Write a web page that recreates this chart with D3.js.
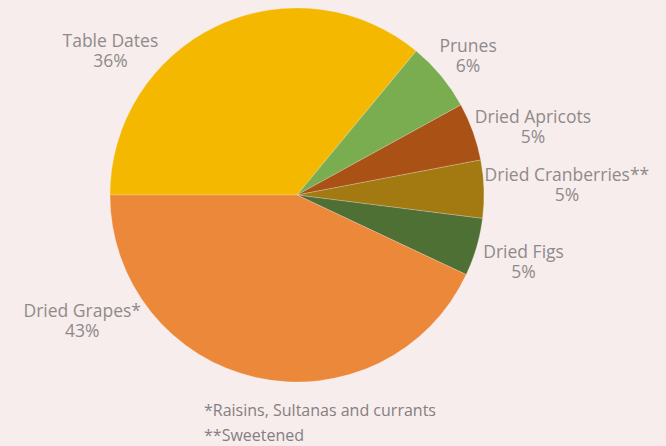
<!DOCTYPE html>
<html>
<head>
<meta charset="utf-8">
<script src="https://cdn.jsdelivr.net/npm/d3@7"></script>
<style>
  html, body { margin: 0; padding: 0; background: #f7eded; }
  svg { display: block; }
  text { font-family: "Open Sans", sans-serif; fill: #8f8a8a; }
</style>
</head>
<body>
<svg id="chart" width="666" height="446"></svg>
<script>
const categories = ["Table Dates", "Prunes", "Dried Apricots", "Dried Cranberries**", "Dried Figs", "Dried Grapes*"];
const values = [36, 6, 5, 5, 5, 43];
const colors = ["#f5b800", "#7aad50", "#aa5216", "#a37a12", "#4f7035", "#ec883a"];
const footnotes = ["*Raisins, Sultanas and currants", "**Sweetened"];

// label offsets from the slice's outer edge (Excel best-fit placement)
const labelOffsets = [[-107, 31], [27, -14], [60, 1], [83, 2], [47, 21], [-174, -50]];

const width = 666, height = 446;
const cx = 297, cy = 195, r = 187;

const svg = d3.select("#chart");
const g = svg.append("g").attr("transform", `translate(${cx},${cy})`);

const data = categories.map((c, i) => ({ name: c, value: values[i] }));
const total = d3.sum(values);

const pie = d3.pie()
    .value(d => d.value)
    .sort(null)
    .startAngle(-Math.PI / 2)
    .endAngle(Math.PI * 1.5);

const arcs = pie(data);
const arc = d3.arc().innerRadius(0).outerRadius(r);
const edge = d3.arc().innerRadius(r).outerRadius(r);

g.selectAll("path")
  .data(arcs)
  .join("path")
    .attr("d", arc)
    .attr("fill", (d, i) => colors[i])
    .attr("stroke", "#f7eded")
    .attr("stroke-opacity", 0.4)
    .attr("stroke-width", 0.6);

const labels = g.selectAll("g.lbl")
  .data(arcs)
  .join("g")
    .attr("class", "lbl")
    .attr("transform", (d, i) => {
      const [x, y] = edge.centroid(d);
      return `translate(${x + labelOffsets[i][0]},${y + labelOffsets[i][1]})`;
    });

labels.append("text")
    .attr("text-anchor", "middle")
    .attr("font-size", 17.5)
    .attr("y", -10)
    .text(d => d.data.name);
labels.append("text")
    .attr("text-anchor", "middle")
    .attr("font-size", 17.5)
    .attr("y", 10)
    .text(d => Math.round(d.data.value / total * 100) + "%");

svg.selectAll("text.fn")
  .data(footnotes)
  .join("text")
    .attr("class", "fn")
    .attr("x", 204)
    .attr("y", (d, i) => 416 + i * 25)
    .attr("font-size", 16)
    .style("fill", "#857f7f")
    .text(d => d);
</script>
</body>
</html>
